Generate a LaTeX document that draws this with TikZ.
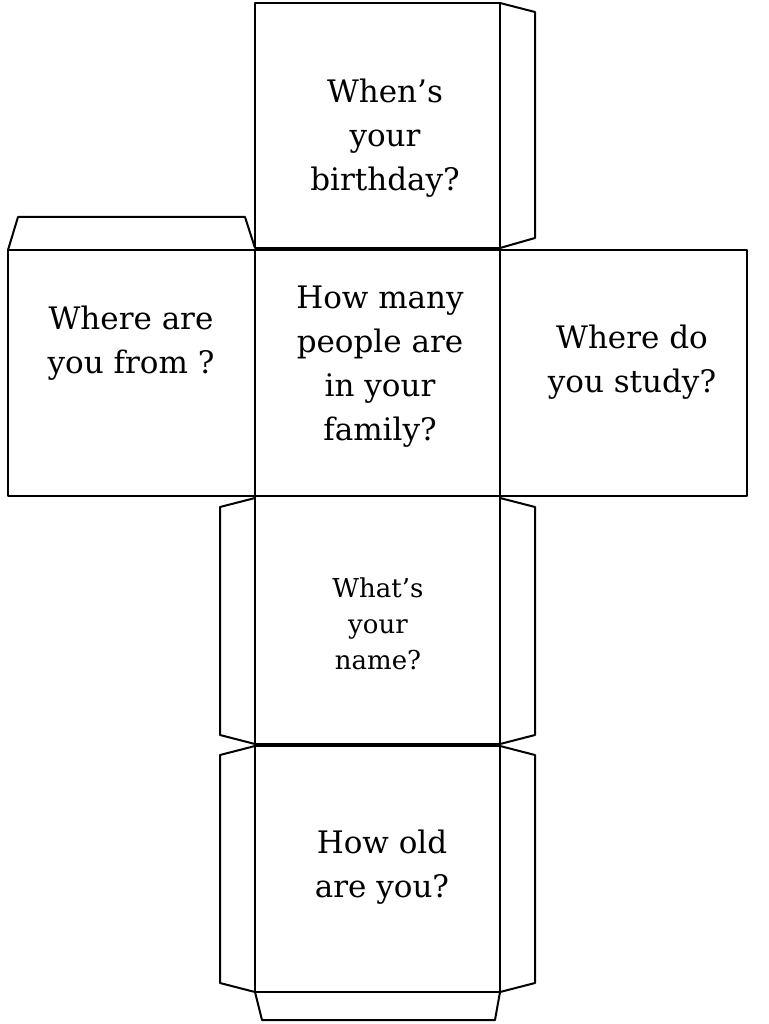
\documentclass[tikz,border=0pt]{standalone}
\usepackage{fontspec}
\setmainfont{DejaVu Serif}
\begin{document}
\begin{tikzpicture}[x=1pt,y=-1pt,line width=2pt,line join=round,
  lbl/.style={align=center,font=\fontsize{31}{44}\selectfont},
  sml/.style={align=center,font=\fontsize{26}{36}\selectfont}]
\useasboundingbox (0,0) rectangle (768,1024);
% faces
\draw (255,3) rectangle (500,248);
\draw (8,250) rectangle (255,496);
\draw (255,250) rectangle (500,496);
\draw (500,250) rectangle (747,496);
\draw (255,496) rectangle (500,744);
\draw (255,746) rectangle (500,992);
% tabs
\draw (500,3) -- (535,12) -- (535,238) -- (500,248);
\draw (8,250) -- (18,217) -- (245,217) -- (255,248);
\draw (255,498) -- (220,507) -- (220,735) -- (255,744);
\draw (500,498) -- (535,507) -- (535,735) -- (500,744);
\draw (255,746) -- (220,755) -- (220,983) -- (255,992);
\draw (500,746) -- (535,755) -- (535,983) -- (500,992);
\draw (255,992) -- (262,1020) -- (495,1020) -- (500,992);
% texts
\node[lbl] (t1) at (385,138) {When’s\\your\\birthday?};
\node[lbl] (t2) at (131,343) {Where are\\you from ?};
\node[lbl] (t3) at (380,367) {How many\\people are\\in your\\family?};
\node[lbl] (t4) at (632,362) {Where do\\you study?};
\node[sml] (t5) at (378,624) {What’s\\your\\name?};
\node[lbl] (t6) at (382,867) {How old\\are you?};
\end{tikzpicture}
\end{document}
